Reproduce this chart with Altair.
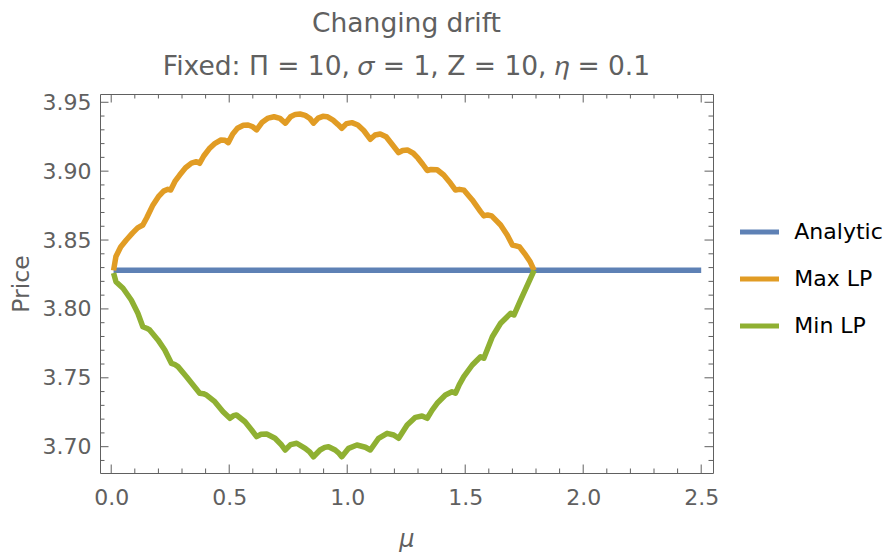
import altair as alt
import pandas as pd

# ---------------- data ----------------
series_names = ["Analytic", "Max LP", "Min LP"]
series_colors = ["#5E81B5", "#E19C24", "#8FB032"]

analytic_mu = [0.01, 2.5]
analytic_price = [3.828, 3.828]

max_mu = [0.01, 0.02, 0.04, 0.064, 0.09, 0.112, 0.134,
          0.150, 0.177, 0.200, 0.222, 0.240, 0.252,
          0.270, 0.290, 0.315, 0.340, 0.361, 0.375,
          0.392, 0.415, 0.440, 0.465, 0.482, 0.496,
          0.515, 0.535, 0.560, 0.580, 0.600, 0.616,
          0.640, 0.665, 0.690, 0.715, 0.738,
          0.760, 0.780, 0.800, 0.822, 0.842, 0.857,
          0.877, 0.897, 0.915, 0.940, 0.960, 0.977,
          0.997, 1.020, 1.045, 1.070, 1.098,
          1.118, 1.140, 1.165, 1.190, 1.218,
          1.235, 1.255, 1.280, 1.300, 1.320, 1.339,
          1.355, 1.381, 1.409, 1.438, 1.459,
          1.475, 1.495, 1.530, 1.565, 1.579,
          1.595, 1.612, 1.650, 1.678, 1.700,
          1.715, 1.730, 1.756, 1.776, 1.792]
max_price = [3.828, 3.838, 3.845, 3.850, 3.855, 3.8588, 3.8609,
             3.8660, 3.8755, 3.8815, 3.8855, 3.8868, 3.8863,
             3.8925, 3.8972, 3.9025, 3.9058, 3.9069, 3.9057,
             3.9110, 3.9162, 3.9202, 3.9226, 3.9224, 3.9207,
             3.9270, 3.9311, 3.9333, 3.9335, 3.9322, 3.9299,
             3.9355, 3.9385, 3.9395, 3.9383, 3.9348,
             3.9395, 3.9412, 3.9415, 3.9405, 3.9382, 3.9348,
             3.9385, 3.9398, 3.9395, 3.9370, 3.9340, 3.9311,
             3.9345, 3.9352, 3.9335, 3.9295, 3.9231,
             3.9262, 3.9270, 3.9250, 3.9195, 3.9134,
             3.9150, 3.9154, 3.9130, 3.9094, 3.9050, 3.9005,
             3.9012, 3.9010, 3.8972, 3.8912, 3.8863,
             3.8868, 3.8862, 3.8791, 3.8706, 3.8675,
             3.8682, 3.8675, 3.8609, 3.8537, 3.8464,
             3.8458, 3.8450, 3.8392, 3.8340, 3.828]

min_mu = [0.01, 0.02, 0.05, 0.085, 0.113, 0.134,
          0.150, 0.163, 0.198, 0.227, 0.255,
          0.268, 0.283, 0.319, 0.347, 0.375,
          0.390, 0.404, 0.439, 0.474, 0.503,
          0.518, 0.531, 0.567, 0.595, 0.616,
          0.635, 0.659, 0.694, 0.722, 0.737,
          0.760, 0.786, 0.822, 0.842, 0.857,
          0.885, 0.905, 0.921, 0.949, 0.965, 0.977,
          1.006, 1.041, 1.077, 1.098,
          1.133, 1.169, 1.197, 1.218,
          1.254, 1.289, 1.317, 1.339,
          1.360, 1.381, 1.416, 1.444, 1.459,
          1.475, 1.494, 1.530, 1.565, 1.579,
          1.597, 1.615, 1.650, 1.693, 1.707,
          1.735, 1.764, 1.792]
min_price = [3.826, 3.8198, 3.8150, 3.8065, 3.7968, 3.7871,
             3.7860, 3.7847, 3.7775, 3.7702, 3.7605,
             3.7598, 3.7581, 3.7508, 3.7448, 3.7388,
             3.7385, 3.7375, 3.7327, 3.7254, 3.7206,
             3.7225, 3.7230, 3.7181, 3.7121, 3.7073,
             3.7090, 3.7092, 3.7061, 3.7012, 3.6976,
             3.7015, 3.7025, 3.6988, 3.6960, 3.6927,
             3.6976, 3.6995, 3.7000, 3.6976, 3.6952, 3.6927,
             3.6988, 3.7012, 3.6996, 3.6976,
             3.7061, 3.7097, 3.7085, 3.7061,
             3.7157, 3.7213, 3.7223, 3.7206,
             3.7265, 3.7315, 3.7375, 3.7399, 3.7388,
             3.7450, 3.7508, 3.7593, 3.7653, 3.7642,
             3.7720, 3.7798, 3.7896, 3.7968, 3.7956,
             3.8065, 3.8174, 3.828]

x_major = [0.0, 0.5, 1.0, 1.5, 2.0, 2.5]
x_minor = [0.1, 0.2, 0.3, 0.4, 0.6, 0.7, 0.8, 0.9, 1.1, 1.2, 1.3, 1.4,
           1.6, 1.7, 1.8, 1.9, 2.1, 2.2, 2.3, 2.4]
y_major = [3.70, 3.75, 3.80, 3.85, 3.90, 3.95]
y_minor = [3.69, 3.71, 3.72, 3.73, 3.74, 3.76, 3.77, 3.78, 3.79, 3.81,
           3.82, 3.83, 3.84, 3.86, 3.87, 3.88, 3.89, 3.91, 3.92, 3.93, 3.94]

title_lines = ["Changing drift", "Fixed: \u03a0 = 10, \U0001D70E = 1, Z = 10, \U0001D702 = 0.1"]

# ---------------- build tables ----------------
rows = []
for name, mus, prices in [("Analytic", analytic_mu, analytic_price),
                          ("Max LP", max_mu, max_price),
                          ("Min LP", min_mu, min_price)]:
    for i, (m, p) in enumerate(zip(mus, prices)):
        rows.append({"series": name, "mu": m, "price": p, "idx": i})
df = pd.DataFrame(rows)

W, H = 613, 379
FONT = "DejaVu Sans"
GRAY = "#606060"

xs = alt.Scale(domain=[-0.0475, 2.55], nice=False, zero=False)
ys = alt.Scale(domain=[3.6809, 3.956], nice=False, zero=False)

x_axis = alt.Axis(values=x_major, format=".1f", title="\u03bc", grid=False, domain=False,
                  ticks=False, labelFont=FONT, labelFontSize=22, labelColor=GRAY,
                  labelPadding=14, labelFlush=False, labelOverlap=False,
                  titleFont=FONT, titleFontSize=24, titleColor=GRAY,
                  titleFontWeight="normal", titleFontStyle="italic", titlePadding=19)
y_axis = alt.Axis(values=y_major, format=".2f", title="Price", grid=False, domain=False,
                  ticks=False, labelFont=FONT, labelFontSize=22, labelColor=GRAY,
                  labelPadding=9, labelFlush=False, labelOverlap=False,
                  titleFont=FONT, titleFontSize=23.5, titleColor=GRAY,
                  titleFontWeight="normal", titlePadding=9)

lines = alt.Chart(df).mark_line(strokeWidth=5.5, strokeJoin="round", strokeCap="butt").encode(
    x=alt.X("mu:Q", scale=xs, axis=x_axis),
    y=alt.Y("price:Q", scale=ys, axis=y_axis),
    color=alt.Color("series:N",
                    scale=alt.Scale(domain=series_names, range=series_colors),
                    legend=alt.Legend(title=None, orient="none", legendX=637.5, legendY=116,
                                      symbolType="stroke", symbolSize=1521,
                                      symbolStrokeWidth=5, labelFont=FONT,
                                      labelFontSize=22, labelColor="black",
                                      labelOffset=12.8, rowPadding=14, padding=0)),
    order="idx:Q",
)

xt_major = pd.DataFrame({"v": x_major})
xt_minor = pd.DataFrame({"v": x_minor})
yt_major = pd.DataFrame({"v": y_major})
yt_minor = pd.DataFrame({"v": y_minor})

tick_layers = []
for frame, ln in [(xt_major, 8.5), (xt_minor, 4.5)]:
    base = alt.Chart(frame).mark_rule(color=GRAY, strokeWidth=1)
    tick_layers.append(base.encode(x=alt.X("v:Q", scale=xs, axis=x_axis),
                                   y=alt.value(H), y2=alt.value(H - ln)))
    tick_layers.append(base.encode(x=alt.X("v:Q", scale=xs, axis=x_axis),
                                   y=alt.value(0), y2=alt.value(ln)))
for frame, ln in [(yt_major, 8.5), (yt_minor, 4.5)]:
    base = alt.Chart(frame).mark_rule(color=GRAY, strokeWidth=1)
    tick_layers.append(base.encode(y=alt.Y("v:Q", scale=ys, axis=y_axis),
                                   x=alt.value(0), x2=alt.value(ln)))
    tick_layers.append(base.encode(y=alt.Y("v:Q", scale=ys, axis=y_axis),
                                   x=alt.value(W), x2=alt.value(W - ln)))

chart = alt.layer(lines, *tick_layers).properties(
    width=W, height=H,
    autosize=alt.AutoSizeParams(type="none"),
    padding={"left": 92, "top": 86, "right": 175, "bottom": 79},
    title=alt.TitleParams(text=title_lines, font=FONT, fontSize=26.5, color=GRAY,
                          fontWeight="normal", lineHeight=42.5, offset=11,
                          anchor="middle"),
).configure_view(stroke=GRAY, strokeWidth=1)

chart.save("out.html", embed_options={"renderer": "svg", "actions": False})
